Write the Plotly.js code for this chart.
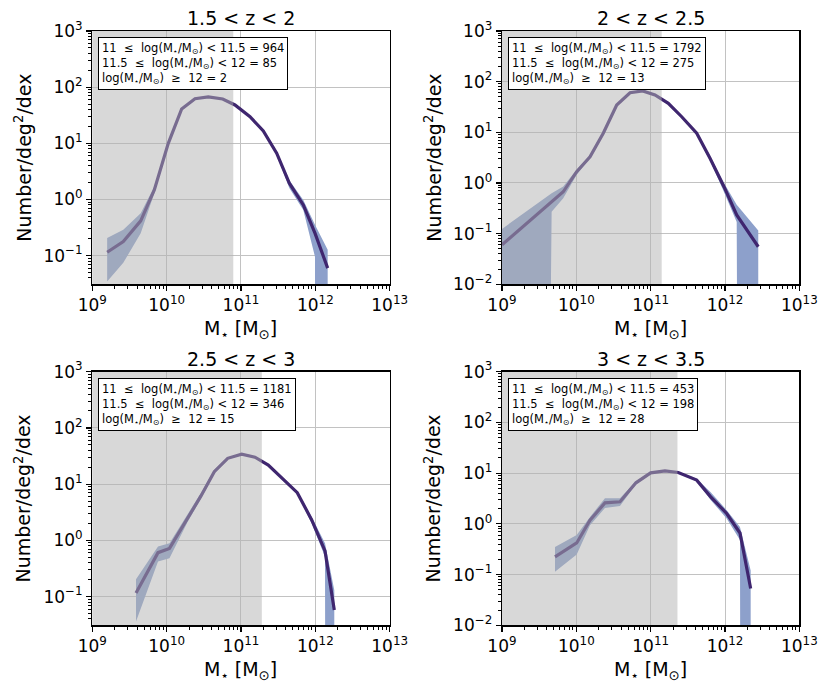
<!DOCTYPE html>
<html>
<head>
<meta charset="utf-8">
<script src="https://cdn.plot.ly/plotly-3.0.1.min.js"></script>
<style>html,body{margin:0;padding:0;background:#fff;}#chart{width:830px;height:692px;}</style>
</head>
<body>
<div id="chart"></div>
<script>
// ---- data (log10 stellar mass bin centres, number density per deg^2 per dex) ----
const panelTitles = ["1.5 &lt; z &lt; 2", "2 &lt; z &lt; 2.5", "2.5 &lt; z &lt; 3", "3 &lt; z &lt; 3.5"];

const logMass1 = [9.20, 9.417, 9.651, 9.834, 10.022, 10.202, 10.381, 10.560, 10.754, 10.919, 11.121, 11.300, 11.480, 11.650, 11.838, 11.995, 12.166];
const phi1     = [0.115, 0.178, 0.416, 1.48, 10.0, 40.9, 62.4, 67, 61.7, 48.2, 29.8, 16.6, 6.67, 1.95, 0.80, 0.251, 0.060];
const phiHi1   = [0.205, 0.288, 0.57, 1.70, 10.5, 42, 64, 69, 63.5, 49.5, 30.8, 17.3, 7.1, 2.2, 0.98, 0.353, 0.127];
const phiLo1   = [0.0346, 0.0745, 0.251, 1.29, 9.5, 39.5, 60.8, 65, 60, 46.9, 28.8, 15.9, 6.25, 1.6, 0.65, 0.096, 1e-100];

const logMass2 = [9.0, 9.668, 9.824, 10.005, 10.184, 10.362, 10.543, 10.722, 10.892, 11.058, 11.237, 11.417, 11.619, 11.798, 11.986, 12.157, 12.447];
const phi2     = [0.060, 0.41, 0.67, 1.67, 3.30, 9.57, 34.6, 60.5, 65.4, 54.6, 37.4, 20.3, 9.57, 3.07, 0.845, 0.233, 0.055];
const phiHi2   = [0.124, 0.625, 0.85, 1.85, 3.5, 10.0, 36, 62, 67, 56, 38.5, 21, 10.1, 3.4, 1.0, 0.37, 0.115];
const phiLo2   = [1e-100, 0.27, 0.50, 1.45, 3.1, 9.1, 33.2, 59, 63.8, 53.2, 36.3, 19.6, 9.0, 2.75, 0.66, 0.17, 1e-100];

const logMass3 = [9.588, 9.884, 10.038, 10.28, 10.462, 10.641, 10.821, 11.009, 11.188, 11.367, 11.561, 11.757, 11.951, 12.130, 12.255];
const phi3     = [0.116, 0.605, 0.72, 2.40, 6.17, 16.7, 28.8, 34.0, 30.1, 21.9, 12.7, 7.06, 2.31, 0.65, 0.058];
const phiHi3   = [0.204, 0.78, 0.89, 2.83, 7.0, 18.0, 30.0, 35.2, 31.0, 22.6, 13.2, 7.5, 2.6, 0.89, 0.13];
const phiLo3   = [0.036, 0.42, 0.48, 2.1, 5.5, 15.5, 27.7, 32.8, 29.2, 21.2, 12.2, 6.6, 2.0, 0.51, 1e-100];

const logMass4 = [9.713, 10.005, 10.184, 10.385, 10.587, 10.802, 11.0, 11.192, 11.371, 11.619, 11.807, 12.022, 12.201, 12.345];
const phi4     = [0.223, 0.42, 1.18, 2.59, 2.72, 6.44, 10.1, 11.1, 10.3, 7.28, 3.41, 1.60, 0.66, 0.053];
const phiHi4   = [0.35, 0.60, 1.37, 3.2, 3.2, 6.9, 10.6, 11.5, 10.7, 7.7, 4.2, 1.86, 0.87, 0.12];
const phiLo4   = [0.113, 0.25, 0.94, 2.05, 2.26, 6.0, 9.6, 10.7, 9.9, 6.9, 2.95, 1.28, 0.48, 1e-100];

// log10 mass below which the sample is shaded (incomplete)
const shadeLimit = [10.896, 11.148, 11.28, 11.36];

// counts in the boxes
const count11  = [964, 1792, 1181, 453];
const count115 = [85, 275, 346, 198];
const count12  = [2, 13, 15, 28];

// axis decades and tick labels
const xDecades = [9, 10, 11, 12, 13];
const xTickText = ['10<sup>9</sup>', '10<sup>10</sup>', '10<sup>11</sup>', '10<sup>12</sup>', '10<sup>13</sup>'];
const yDecades = [-2, -1, 0, 1, 2, 3];
const yTickText = ['10<sup>−2</sup>', '10<sup>−1</sup>', '10<sup>0</sup>', '10<sup>1</sup>', '10<sup>2</sup>', '10<sup>3</sup>'];

// y-axis lower limits (log10)
const yLow = [-1.51, -2, -1.51, -2];

// ---- build figure ----
const panels = [
  [logMass1, phi1, phiLo1, phiHi1],
  [logMass2, phi2, phiLo2, phiHi2],
  [logMass3, phi3, phiLo3, phiHi3],
  [logMass4, phi4, phiLo4, phiHi4]
];

const lineColor = '#3f266f';
const bandColor = '#8da0cb';
const shadeColor = 'rgba(178,178,178,0.5)';
const FONT = 'DejaVu Sans';

const traces = [];
panels.forEach((p, i) => {
  const suf = i === 0 ? '' : String(i + 1);
  const xa = 'x' + suf, ya = 'y' + suf;
  const x = p[0].map(v => Math.pow(10, v));
  traces.push({x: x, y: p[2], xaxis: xa, yaxis: ya, mode: 'lines', line: {width: 0, color: bandColor}, showlegend: false, hoverinfo: 'skip'});
  traces.push({x: x, y: p[3], xaxis: xa, yaxis: ya, mode: 'lines', line: {width: 0, color: bandColor}, fill: 'tonexty', fillcolor: bandColor, showlegend: false, hoverinfo: 'skip'});
  traces.push({x: x, y: p[1], xaxis: xa, yaxis: ya, mode: 'lines', line: {width: 3.2, color: lineColor}, showlegend: false});
  const c = Math.pow(10, shadeLimit[i]);
  traces.push({x: [1e7, c, c, 1e7, 1e7], y: [1e-6, 1e-6, 1e6, 1e6, 1e-6], xaxis: xa, yaxis: ya, mode: 'lines', line: {width: 0}, fill: 'toself', fillcolor: shadeColor, showlegend: false, hoverinfo: 'skip'});
});

function minorVals(lo, hi) {
  const v = [];
  for (let d = lo; d < hi; d++) for (let k = 2; k <= 9; k++) v.push(k * Math.pow(10, d));
  return v;
}

const colDom = [[0.1112, 0.4695], [0.6048, 0.9631]];
const rowDom = [[0.5892, 0.9552], [0.0964, 0.4629]];

function axisBase(decades, texts, lo, hi) {
  return {
    type: 'log', tickmode: 'array',
    tickvals: decades.map(d => Math.pow(10, d)), ticktext: texts,
    showgrid: true, gridcolor: '#c2c2c2', gridwidth: 1,
    showline: true, linecolor: 'black', linewidth: 1.3, mirror: true,
    ticks: 'outside', ticklen: 5, tickwidth: 1.2, tickcolor: 'black',
    tickfont: {family: FONT, size: 17, color: 'black'},
    minor: {tickmode: 'array', tickvals: minorVals(lo, hi), ticks: 'outside', ticklen: 3, tickwidth: 1, tickcolor: 'black', showgrid: false},
    zeroline: false, fixedrange: true
  };
}

const layout = {
  width: 830, height: 692,
  margin: {l: 0, r: 0, t: 0, b: 0},
  paper_bgcolor: 'white', plot_bgcolor: 'white',
  font: {family: FONT, color: 'black'},
  showlegend: false,
  annotations: []
};

for (let i = 0; i < 4; i++) {
  const suf = i === 0 ? '' : String(i + 1);
  const col = i % 2, row = Math.floor(i / 2);
  const xa = axisBase(xDecades, xTickText, 9, 13);
  xa.range = [9, 13];
  xa.domain = colDom[col];
  xa.anchor = 'y' + suf;
  const ya = axisBase(yDecades, yTickText, -2, 3);
  ya.range = [yLow[i], 3];
  ya.domain = rowDom[row];
  ya.anchor = 'x' + suf;
  layout['xaxis' + suf] = xa;
  layout['yaxis' + suf] = ya;

  const xc = (colDom[col][0] + colDom[col][1]) / 2;
  const yc = (rowDom[row][0] + rowDom[row][1]) / 2;
  // subplot title
  layout.annotations.push({text: panelTitles[i], xref: 'paper', yref: 'paper', x: xc, y: rowDom[row][1], xanchor: 'center', yanchor: 'bottom', showarrow: false, font: {family: FONT, size: 19, color: 'black'}});
  // y title
  layout.annotations.push({text: 'Number/deg<sup>2</sup>/dex', xref: 'paper', yref: 'paper', x: (col === 0 ? 23 : 433) / 830, y: yc, xanchor: 'center', yanchor: 'middle', textangle: -90, showarrow: false, font: {family: FONT, size: 19, color: 'black'}});
  // x title
  layout.annotations.push({text: 'M<sub>⋆</sub> [M<sub>⊙</sub>]', xref: 'paper', yref: 'paper', x: xc, y: rowDom[row][0] - 0.0445, xanchor: 'center', yanchor: 'top', showarrow: false, font: {family: FONT, size: 19, color: 'black'}});
  // count box
  const boxText = '11  ≤  log(M<sub>⋆</sub>/M<sub>⊙</sub>) &lt; 11.5 = ' + count11[i] +
    '<br>11.5  ≤  log(M<sub>⋆</sub>/M<sub>⊙</sub>) &lt; 12 = ' + count115[i] +
    '<br>log(M<sub>⋆</sub>/M<sub>⊙</sub>)  ≥  12 = ' + count12[i];
  layout.annotations.push({text: boxText, xref: 'paper', yref: 'paper', x: colDom[col][0] + 6 / 830, y: rowDom[row][1] - 6.3 / 692, xanchor: 'left', yanchor: 'top', align: 'left', showarrow: false, bgcolor: 'white', bordercolor: 'black', borderwidth: 1, borderpad: 3, font: {family: FONT, size: 11.5, color: 'black'}});
}

Plotly.newPlot('chart', traces, layout, {staticPlot: true, displayModeBar: false});
</script>
</body>
</html>
